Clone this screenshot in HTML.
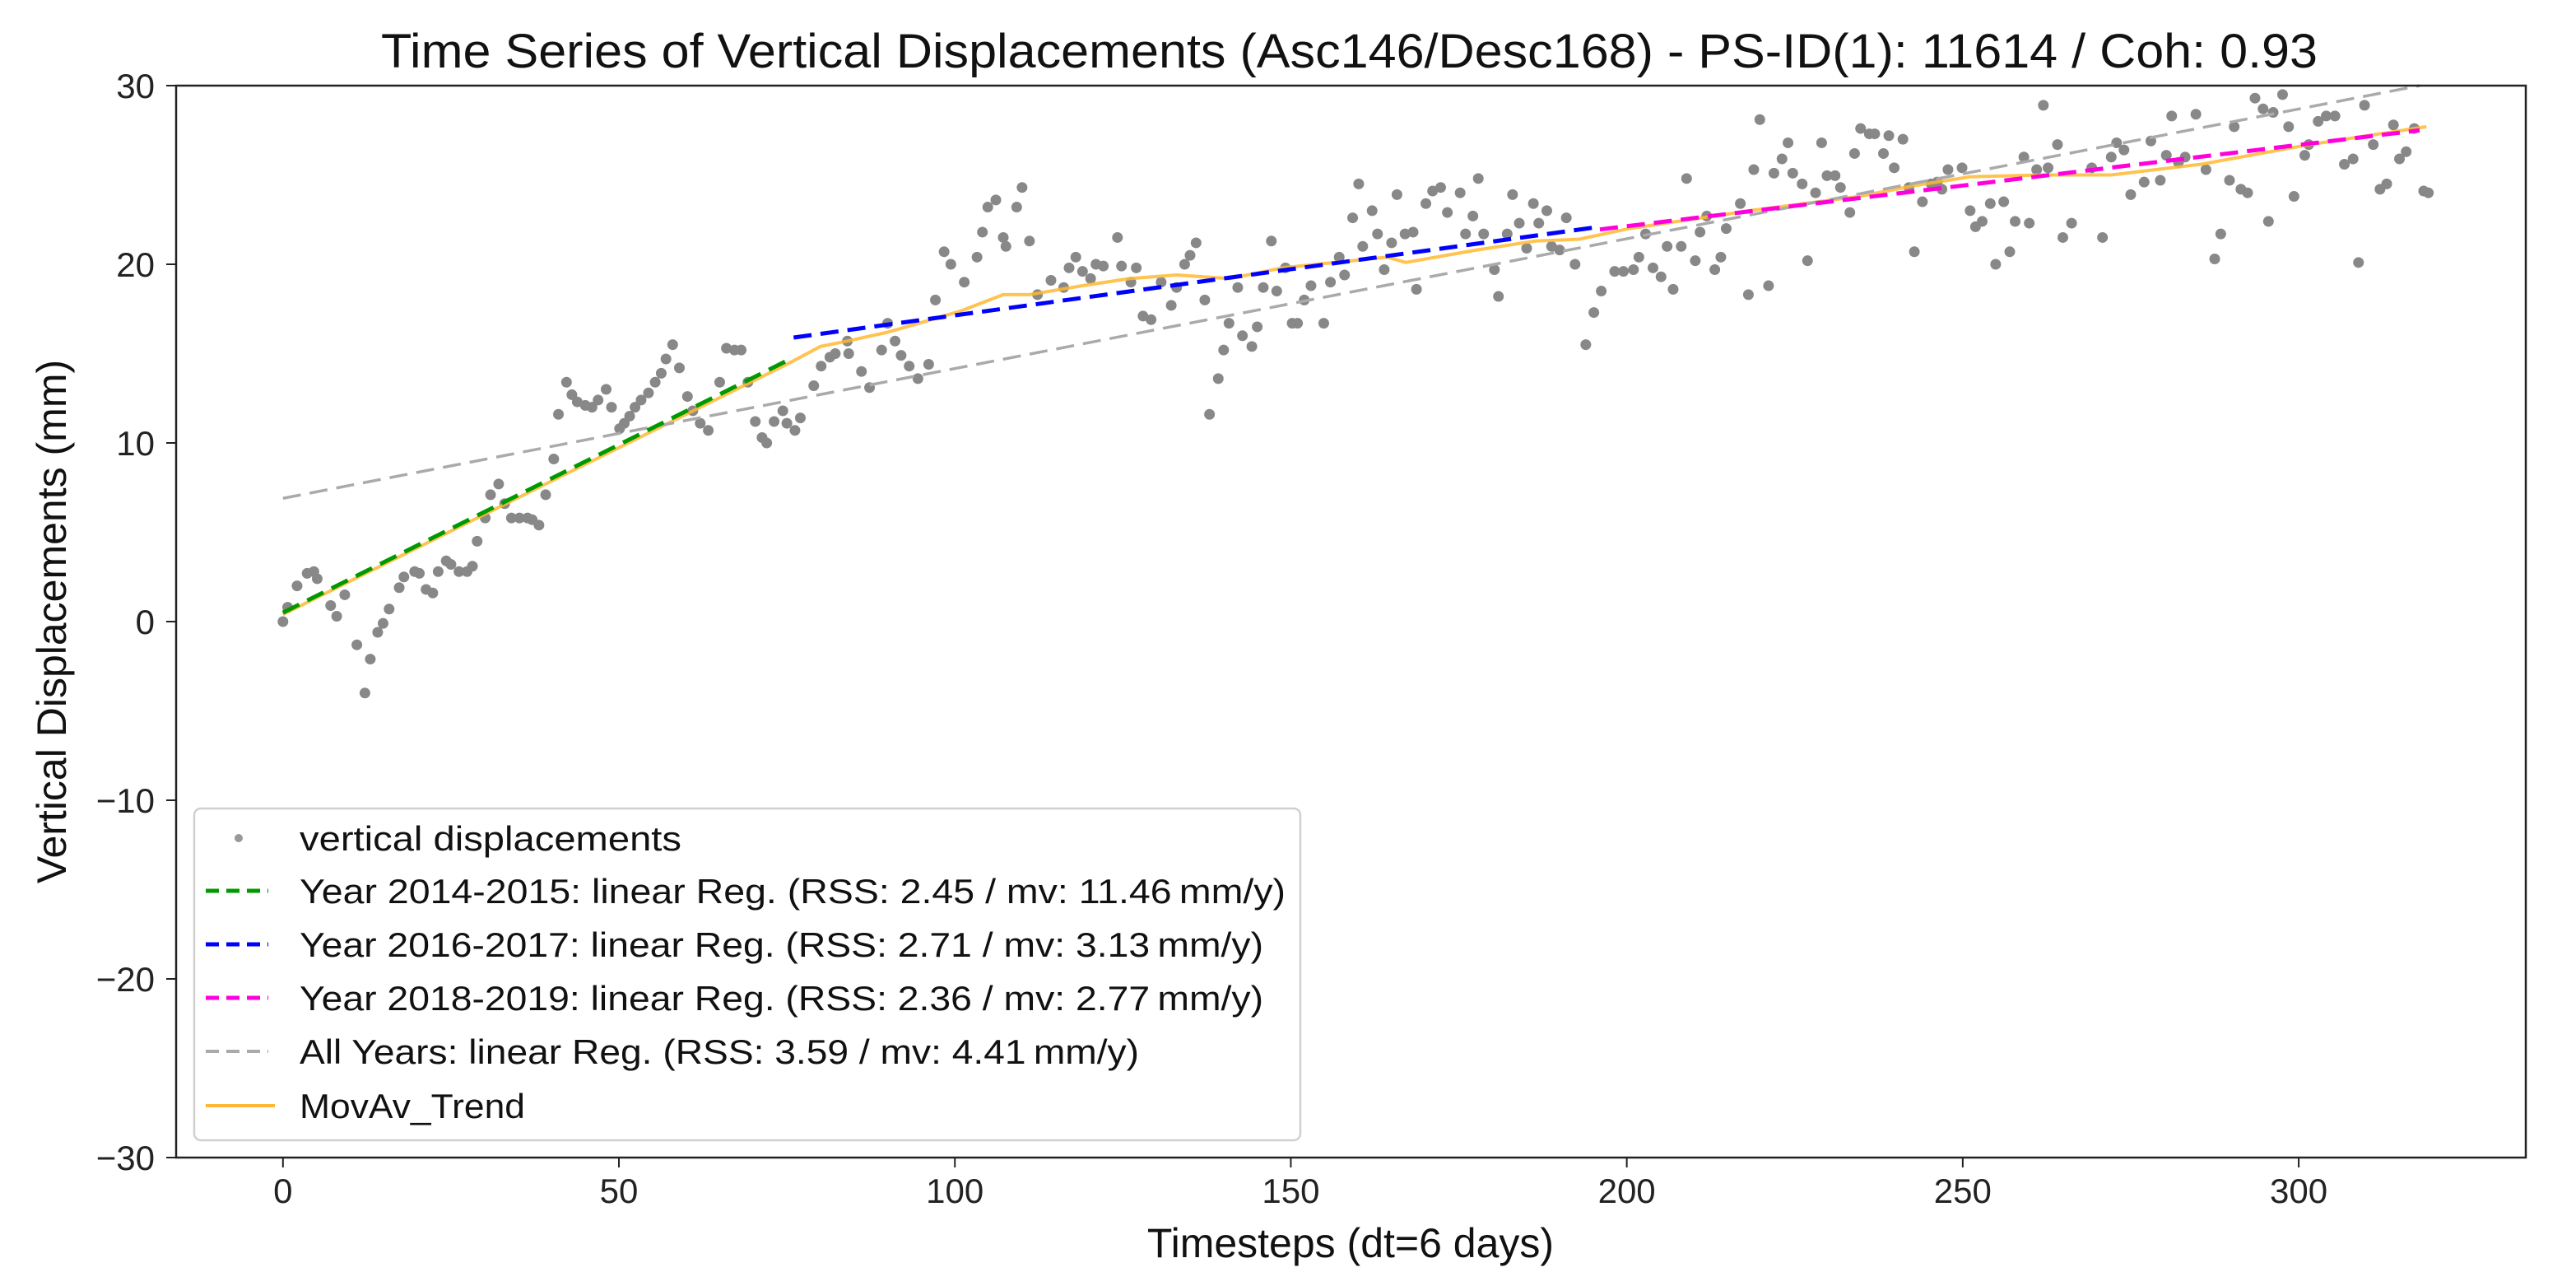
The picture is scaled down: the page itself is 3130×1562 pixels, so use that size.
<!DOCTYPE html>
<html><head><meta charset="utf-8">
<style>
html,body{margin:0;padding:0;background:#fff;}
svg{display:block;font-family:"Liberation Sans","DejaVu Sans",sans-serif;}
</style></head>
<body>
<svg id="chart" width="3130" height="1562" viewBox="0 0 3130 1562" xmlns="http://www.w3.org/2000/svg">
<rect width="3130" height="1562" fill="#fff"/>
<text x="463" y="82" font-size="58" textLength="2353" lengthAdjust="spacingAndGlyphs" fill="#111">Time Series of Vertical Displacements (Asc146/Desc168) - PS-ID(1): 11614 / Coh: 0.93</text>
<g id="plot"></g>
<g id="axes"></g>
<text x="1641" y="1527" font-size="50" text-anchor="middle" fill="#111">Timesteps (dt=6 days)</text>
<text transform="translate(80,755) rotate(-90)" font-size="50" text-anchor="middle" fill="#111">Vertical Displacements (mm)</text>
<g id="legend"></g>
</svg>
<script>
const xTicks=[0,50,100,150,200,250,300];
const yTicks=[-30,-20,-10,0,10,20,30];
const yTickLabels=["\u221230","\u221220","\u221210","0","10","20","30"];
const timesteps=[0,0.7,2.1,3.6,4.6,5.1,7.1,8,9.2,11,12.2,13,14.1,14.9,15.8,17.3,18,19.6,20.3,21.3,22.3,23.1,24.3,25,26.2,27.4,28.2,28.9,30.1,30.9,32.1,33,34,35.2,36.4,37.1,38.1,39.1,40.3,41,42.2,43,43.8,45,46,46.9,48.1,48.9,50.1,50.8,51.6,52.4,53.3,54.4,55.4,56.3,57,58,59,60.2,61,62.1,63.3,65,66,67.2,68.2,69.2,70.3,71.3,72,73.1,74.4,75,76.2,77,79,80.1,81.4,82.2,84.2,84,86.1,87.3,89.1,90,91.1,92,93.2,94.5,96.1,97.1,98.4,99.4,101.4,103.3,104.1,104.9,106.1,107.2,107.6,109.2,110,111.1,112.3,114.3,116.2,117,118,119,120.2,121,122.1,124.2,124.8,126.2,127,128,129.2,130.7,132.2,133,134.2,135,135.9,137.2,137.9,139.2,140,140.8,142.1,142.8,144.2,145,145.9,147.1,147.9,149.2,150.2,151,152,153,154.9,155.9,157.2,158,159.2,160.1,160.7,162.1,162.9,163.9,165,165.8,167,168.2,168.7,170.1,171.1,172.3,173.3,175.2,176,177.1,177.9,178.7,180.3,180.9,182.2,183,184,185.1,186.1,186.9,188.1,188.8,190,191,192.3,193.9,195.1,196.2,198.2,199.5,201,201.8,202.8,203.9,205.1,206,206.9,208.1,208.9,210.2,210.9,211.9,213.1,214,214.8,216.9,218.1,218.9,219.8,221.1,221.9,223.1,224,224.7,226.1,226.9,228.1,229,229.8,231,231.8,233.2,233.9,234.8,236.1,236.9,238.2,239,239.8,241.1,242,242.8,244,245.3,246.2,246.9,247.8,249.9,251.1,251.9,252.9,254.1,254.9,256.1,257,257.8,259.1,259.9,261,262,262.7,264.1,264.9,266.2,269.2,270.8,272.1,272.9,274,275,277,278,279.4,280.3,281.1,282.1,283.1,284.7,286.2,287.5,288.4,289.7,290.4,291.4,292.4,293.5,294.7,295.5,296.2,297.6,298.5,299.3,300.9,301.5,302.9,304.1,305.4,306.8,308.1,308.9,309.8,311.1,312.1,313.1,314.1,315,316,317.2,318.6,319.3];
const displacement=[0,0.8,2,2.7,2.8,2.4,0.9,0.3,1.5,-1.3,-4,-2.1,-0.6,-0.1,0.7,1.9,2.5,2.8,2.7,1.8,1.6,2.8,3.4,3.2,2.8,2.8,3.1,4.5,5.8,7.1,7.7,6.6,5.8,5.8,5.8,5.7,5.4,7.1,9.1,11.6,13.4,12.7,12.3,12.1,12,12.4,13,12,10.8,11.1,11.5,12,12.4,12.8,13.4,13.9,14.7,15.5,14.2,12.6,11.8,11.1,10.7,13.4,15.3,15.2,15.2,13.4,11.2,10.3,10,11.2,11.8,11.1,10.7,11.4,13.2,14.3,14.8,15,15,15.7,14,13.1,15.2,16.7,15.7,14.9,14.3,13.6,14.4,18,20.7,20,19,20.4,21.8,23.2,23.6,21.5,21,23.2,24.3,21.3,18.3,19.1,18.7,19.8,20.4,19.6,19.2,20,19.9,21.5,19.9,19,19.8,17.1,16.9,19,17.7,18.7,20,20.5,21.2,18,11.6,13.6,15.2,16.7,18.7,16,15.4,16.5,18.7,21.3,18.5,19.8,16.7,16.7,18,18.8,16.7,19,20.4,19.4,22.6,24.5,21,23,21.7,19.7,21.2,23.9,21.7,21.8,18.6,23.4,24.1,24.3,22.9,24,21.7,22.7,24.8,21.7,19.7,18.2,21.7,23.9,22.3,20.9,23.4,22.3,23,21,20.8,22.6,20,15.5,17.3,18.5,19.6,19.6,19.7,20.4,21.7,19.8,19.3,21,18.6,21,24.8,20.2,21.8,22.7,19.7,20.4,22,23.4,18.3,25.3,28.1,18.8,25.1,25.9,26.8,25.1,24.5,20.2,24,26.8,24.96,24.96,24.3,22.9,26.2,27.6,27.3,27.3,26.2,27.2,25.4,27,24.3,20.7,23.5,24.5,24.6,24.2,25.3,25.4,23,22.1,22.4,23.4,20,23.5,20.7,22.4,26,22.3,25.3,28.9,25.4,26.7,21.5,22.3,25.4,21.5,26,26.8,26.4,23.9,24.6,26.9,24.7,26.1,28.3,25.7,26,28.4,25.3,20.3,21.7,24.7,27.7,24.2,24,29.3,28.7,22.4,28.5,29.5,27.7,23.8,26.1,26.7,28,28.3,28.3,25.6,25.9,20.1,28.9,26.7,24.2,24.5,27.8,25.9,26.3,27.6,24.1,24];
const movAvX=[0,75,80,84,90,94.7,101,107.2,111.1,119,126,133,140.9,148.8,156.6,164.4,167.1,177.7,186.3,192.9,200.4,218.3,234.6,242.8,251.1,261.7,272.1,285.5,301.6,319];
const movAvY=[0.4,14.4,15.4,15.7,16.2,16.7,17.4,18.3,18.3,18.8,19.2,19.4,19.2,19.8,20.1,20.4,20.1,20.8,21.3,21.4,22,23,23.8,24.4,24.9,25,25,25.6,26.7,27.7];
const regStartX=[0,76,196,0];
const regStartY=[0.5,15.9,21.95,6.9];
const regEndX=[75,196,318,318];
const regEndY=[14.6,22.1,27.5,30.0];
const regColors=["#009900","#0000ff","#ff00dd","#aaaaaa"];
const legendLabels=["vertical displacements","Year 2014-2015: linear Reg. (RSS: 2.45 / mv: 11.46\u2009mm/y)","Year 2016-2017: linear Reg. (RSS: 2.71 / mv: 3.13\u2009mm/y)","Year 2018-2019: linear Reg. (RSS: 2.36 / mv: 2.77\u2009mm/y)","All Years: linear Reg. (RSS: 3.59 / mv: 4.41\u2009mm/y)","MovAv_Trend"];

const L=214,R=3069,T=104,B=1406,XMIN=-15.9,XMAX=333.8,YMIN=-30,YMAX=30;
function sx(v){return L+(v-XMIN)/(XMAX-XMIN)*(R-L);}
function sy(v){return B-(v-YMIN)/(YMAX-YMIN)*(B-T);}
const NS="http://www.w3.org/2000/svg";
function mk(tag,attrs,parent){const e=document.createElementNS(NS,tag);for(const k in attrs)e.setAttribute(k,attrs[k]);parent.appendChild(e);return e;}
const plot=document.getElementById('plot'),axes=document.getElementById('axes'),leg=document.getElementById('legend');

// scatter
for(let i=0;i<timesteps.length;i++){
  const c=mk('circle',{cx:sx(timesteps[i]),cy:sy(displacement[i]),r:6.5,fill:'#888'},plot);
  
  
}
// moving average (under regression lines)
let d='';
for(let i=0;i<movAvX.length;i++)d+=(i?'L':'M')+sx(movAvX[i]).toFixed(1)+','+sy(movAvY[i]).toFixed(1);
const mv=mk('path',{d:d,fill:'none',stroke:'#ffb833','stroke-width':4,'stroke-opacity':0.85,'stroke-linejoin':'round'},plot);


// regression lines
const regNames=['regression-2014-2015','regression-2016-2017','regression-2018-2019','regression-all-years'];
const order=[3,0,1,2];
order.forEach(i=>{
  const w=i===3?3.5:5;
  const ln=mk('line',{x1:sx(regStartX[i]),y1:sy(regStartY[i]),x2:sx(regEndX[i]),y2:sy(regEndY[i]),stroke:regColors[i],'stroke-width':w,'stroke-dasharray':'22 11'},plot);
  
  
});

// axes frame
const fr=mk('rect',{x:L,y:T,width:R-L,height:B-T,fill:'none',stroke:'#222','stroke-width':2.5},axes);


xTicks.forEach(v=>{
  const x=sx(v);
  const t=mk('line',{x1:x,y1:B,x2:x,y2:B+12,stroke:'#222','stroke-width':2},axes);
  
  
  const tx=mk('text',{x:x,y:1461,'font-size':42,'text-anchor':'middle',fill:'#222'},axes);
  tx.textContent=String(v);
  
  
});
yTicks.forEach((v,i)=>{
  const y=sy(v);
  const t=mk('line',{x1:L-12,y1:y,x2:L,y2:y,stroke:'#222','stroke-width':2},axes);
  
  
  const tx=mk('text',{x:188,y:y+15,'font-size':42,'text-anchor':'end',fill:'#222'},axes);
  tx.textContent=yTickLabels[i];
  
  
});

// legend
const box=mk('rect',{x:236,y:982,width:1344,height:403,rx:8,fill:'#fff','fill-opacity':0.85,stroke:'#d0d0d0','stroke-width':2.5},leg);


const rowY=[1018,1082,1147,1212,1277,1343];
const textW=[464,1198,1171,1171,1020,274];
const entryNames=['legend-entry-points','legend-entry-2014-2015','legend-entry-2016-2017','legend-entry-2018-2019','legend-entry-all-years','legend-entry-movav'];
for(let i=0;i<legendLabels.length;i++){
  const g=mk('g',{},leg);
  
  
  const y=rowY[i];
  if(i===0){mk('circle',{cx:290,cy:y,r:5,fill:'#999'},g);}
  else if(i<5){mk('line',{x1:250,y1:y,x2:326,y2:y,stroke:regColors[i-1],'stroke-width':i===4?4:5,'stroke-dasharray':'16 9'},g);}
  else {mk('line',{x1:250,y1:y,x2:334,y2:y,stroke:'#ffb833','stroke-width':4},g);}
  const tx=mk('text',{x:364,y:y+15,'font-size':42,fill:'#111',textLength:textW[i],lengthAdjust:'spacingAndGlyphs'},g);
  tx.textContent=legendLabels[i];
}
</script>
</body></html>
